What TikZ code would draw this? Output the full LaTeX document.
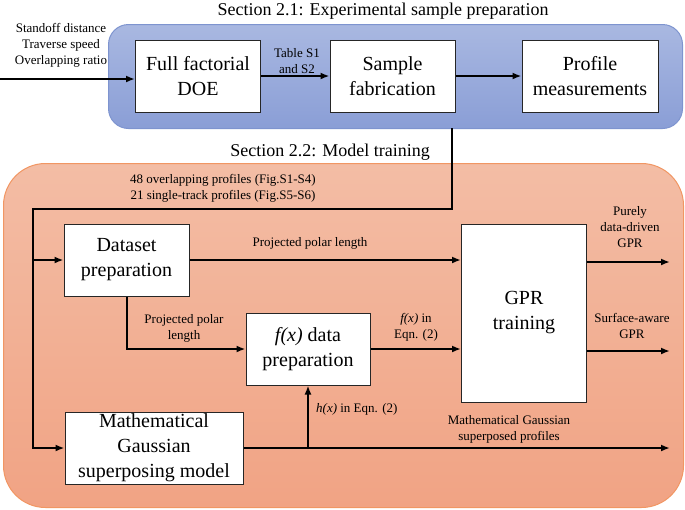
\documentclass[tikz,border=0pt]{standalone}
\usepackage{fontspec}
\setmainfont{Liberation Serif}
\usetikzlibrary{arrows.meta,calc}
\definecolor{bluetop}{HTML}{A9B8E1}
\definecolor{bluebot}{HTML}{8A9ED6}
\definecolor{blueedge}{HTML}{7E94CF}
\definecolor{orgtop}{HTML}{F3BDA5}
\definecolor{orgbot}{HTML}{F1A384}
\definecolor{orgedge}{HTML}{F19663}
\begin{document}
\begin{tikzpicture}[x=1pt,y=-1pt,
  box/.style={draw=black!85, line width=1pt, fill=white, minimum width=125pt, minimum height=72pt, align=center, font=\fontsize{20}{25}\selectfont, inner sep=0pt},
  lbl/.style={align=center, font=\fontsize{13}{16}\selectfont, inner sep=0pt},
  arr/.style={line width=2pt, -{Latex[length=9pt,width=7pt]}},
  ttl/.style={font=\fontsize{18}{22}\selectfont, inner sep=0pt},
  blueframe/.style={draw=blueedge, line width=1pt, top color=bluetop, bottom color=bluebot, rounded corners=20pt, inner sep=0pt},
  orgframe/.style={draw=orgedge, line width=1pt, top color=orgtop, bottom color=orgbot, rounded corners=42pt, inner sep=0pt}]
\useasboundingbox (0,0) rectangle (685,509);

% input labels (partly covered by the blue frame)
\node[lbl] (inputs) at (61,45) {Standoff distance\\Traverse speed\\Overlapping ratio};

% frames
\node[blueframe, anchor=north west, minimum width=574pt, minimum height=104pt] (sec1) at (108,24) {};
\node[orgframe, anchor=north west, minimum width=680pt, minimum height=344pt] (sec2) at (3,163) {};

% titles
\node[ttl] (t1) at (383,11) {Section 2.1: Experimental sample preparation};
\node[ttl] (t2) at (330,152) {Section 2.2: Model training};

% boxes
\node[box] (doe) at (198,76) {Full factorial\\DOE};
\node[box] (fab) at (392.5,76) {Sample\\fabrication};
\node[box, minimum width=136pt] (prof) at (590,76) {Profile\\measurements};
\node[box] (data) at (126.5,260) {Dataset\\preparation};
\node[box, minimum height=178pt] (gpr) at (524,313) {GPR\\training};
\node[box, minimum width=124pt] (fx) at (308,349) {\textit{f(x)} data\\preparation};
\node[box, minimum width=178pt] (math) at (154,448) {Mathematical\\Gaussian\\superposing model};

% coordinates
\coordinate (in) at (0,79);
\coordinate (tap) at (452,128);
\coordinate (c2) at (33,209);
\coordinate (o1) at (670,262);
\coordinate (o2) at (670,351);
\coordinate (o3) at (670,448);
\coordinate (hx) at (308,448);

% connectors
\draw[arr] (in) -- (doe.west |- in);
\draw[arr] (doe) -- (fab);
\draw[arr] (fab) -- (prof);
\draw[arr] (tap) |- (c2) |- (math.west);
\draw[arr] (c2 |- data.west) -- (data.west);
\draw[arr] (data.east) -- (data.east -| gpr.west);
\draw[arr] (data.south) |- (fx.west);
\draw[arr] (fx.east) -- (fx.east -| gpr.west);
\draw[arr] (gpr.east |- o1) -- (o1);
\draw[arr] (gpr.east |- o2) -- (o2);
\draw[arr] (math.east) -- (o3);
\draw[arr] (hx) -- (hx |- fx.south);

% labels
\node[lbl] (ltab) at (297,61.5) {Table S1\\and S2};
\node[lbl] (lprof) at (223,188) {48 overlapping profiles (Fig.S1-S4)\\21 single-track profiles (Fig.S5-S6)};
\node[lbl] (lppl) at (310,243) {Projected polar length};
\node[lbl] (lppl2) at (184,328.5) {Projected polar\\length};
\node[lbl] (lfx) at (416,327.5) {\textit{f(x)} in\\Eqn. (2)};
\node[lbl] (lpure) at (630,227.5) {Purely\\data-driven\\GPR};
\node[lbl] (lsurf) at (632,326) {Surface-aware\\GPR};
\node[lbl, anchor=west] (lhx) at (316,409.5) {\textit{h(x)} in Eqn. (2)};
\node[lbl] (lmg) at (509,429.5) {Mathematical Gaussian\\superposed profiles};
\end{tikzpicture}
\end{document}
